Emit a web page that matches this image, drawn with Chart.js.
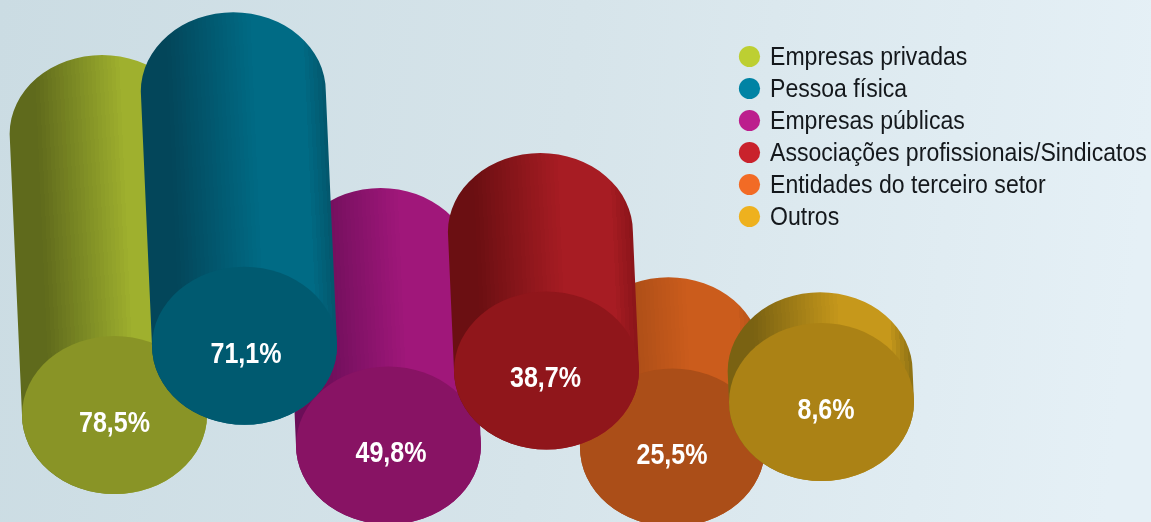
<!DOCTYPE html>
<html>
<head>
<meta charset="utf-8">
<style>html,body{margin:0;padding:0;background:#d5e3ea}#wrap{width:1151px;height:522px;position:relative}</style>
<script src="https://cdn.jsdelivr.net/npm/chart.js@4/dist/chart.umd.min.js"></script>
</head>
<body>
<div id="wrap"><canvas id="c"></canvas></div>
<script>
const categories = ['Empresas privadas','Pessoa física','Empresas públicas','Associações profissionais/Sindicatos','Entidades do terceiro setor','Outros'];
const values = [78.5, 71.1, 49.8, 38.7, 25.5, 8.6];
// staggered placement of each cylinder's front face, in axis units
const frontX = [114.5, 244.5, 388.5, 546.5, 672.5, 821.5];
const frontLift = [29.9, 49.2, 21.4, 42.3, 20.8, 33.5];
const labelNudge = [0, 1.5, 2.5, -1, -0.5, 4.5];
// colours
const legendColors = ['#bdcf32','#0083a4','#bc1e8d','#c9222c','#f26b25','#eeb11e'];
const faceColors = ['#899426','#005a70','#881364','#90161b','#ab4e18','#ab8215'];
const shadeColors = ['#5f6a1c','#03465a','#6b0e58','#6b0f12','#9c4715','#7a6212'];
const lightColors = ['#9fb02e','#006b85','#a0177a','#a71c23','#cb5c1c','#c6981b'];
const edgeColors = ['#8a9a26','#03566c','#85136a','#8a1419','#a94e18','#8c7014'];

const RY = 79, TILT = 0.044;
const LEGEND_SQUEEZE = 0.887, LABEL_SQUEEZE = 0.835;

function mix(a, b, t) {
  const p = s => [1, 3, 5].map(k => parseInt(s.substr(k, 2), 16));
  const A = p(a), B = p(b);
  return 'rgb(' + A.map((v, k) => Math.round(v + (B[k] - v) * t)).join(',') + ')';
}
function shadeAt(i, f) {
  if (f < 0.15) return shadeColors[i];
  if (f < 0.62) return mix(shadeColors[i], lightColors[i], (f - 0.15) / 0.47);
  if (f < 0.88) return lightColors[i];
  return mix(lightColors[i], edgeColors[i], (f - 0.88) / 0.12);
}

const cylinderPlugin = {
  id: 'cylinders',
  beforeDraw(chart) {
    const {ctx, width, height} = chart;
    const g = ctx.createLinearGradient(0, 0, width, height * 0.25);
    g.addColorStop(0, '#cbdce3');
    g.addColorStop(0.5, '#d6e4ea');
    g.addColorStop(1, '#e5f0f6');
    ctx.save();
    ctx.fillStyle = g;
    ctx.fillRect(0, 0, width, height);
    ctx.restore();
  },
  afterLayout(chart) {
    const legend = chart.legend;
    legend.left = 736;
    legend.top = 37.5;
    if (!legend._squeezed) {
      legend._squeezed = true;
      const drawLegend = legend.draw.bind(legend);
      legend.draw = function () {
        const ctx = chart.ctx;
        const fill = ctx.fillText;
        ctx.fillText = function (t, x, y) {
          fill.call(ctx, t, x, y + 1, ctx.measureText(t).width * LEGEND_SQUEEZE);
        };
        drawLegend();
        delete ctx.fillText;
      };
    }
  },
  beforeDatasetsDraw(chart) {
    const ctx = chart.ctx;
    const order = [0, 2, 4, 1, 3, 5];
    order.forEach(i => {
      const el = chart.getDatasetMeta(i).data[0];
      const rx = el.width / 2;
      const cx = el.x, cy = el.base;
      const h = el.base - el.y;
      const tx = cx - h * TILT, ty = el.y;
      ctx.save();
      const x0 = cx - rx, x1 = cx + rx;
      const grad = ctx.createLinearGradient(x0, cy, x1, cy - 2 * rx * TILT);
      const facets = 46;
      for (let k = 0; k < facets; k++) {
        const c = shadeAt(i, (k + 0.5) / facets);
        grad.addColorStop(k / facets, c);
        grad.addColorStop((k + 1) / facets, c);
      }
      ctx.fillStyle = grad;
      ctx.beginPath();
      ctx.ellipse(tx, ty, rx, RY, 0, Math.PI, 2 * Math.PI);
      ctx.ellipse(cx, cy, rx, RY, 0, 0, Math.PI);
      ctx.closePath();
      ctx.fill();
      ctx.fillStyle = faceColors[i];
      ctx.beginPath();
      ctx.ellipse(cx, cy, rx, RY, 0, 0, 2 * Math.PI);
      ctx.fill();
      ctx.fillStyle = '#ffffff';
      ctx.font = 'bold 30px "Liberation Sans"';
      ctx.textAlign = 'center';
      ctx.textBaseline = 'middle';
      const text = values[i].toFixed(1).replace('.', ',') + '%';
      ctx.fillText(text, cx + labelNudge[i], cy + 8.5, ctx.measureText(text).width * LABEL_SQUEEZE);
      ctx.restore();
    });
    return false;
  }
};

new Chart(document.getElementById('c'), {
  type: 'bar',
  data: {
    datasets: categories.map((label, i) => ({
      label,
      data: [{x: frontX[i], y: [frontLift[i], frontLift[i] + values[i]]}],
      backgroundColor: legendColors[i],
      borderColor: legendColors[i],
      barThickness: 185,
      grouped: false
    }))
  },
  plugins: [cylinderPlugin],
  options: {
    responsive: true,
    maintainAspectRatio: false,
    animation: false,
    layout: {padding: 0},
    scales: {
      x: {type: 'linear', display: false, min: 0, max: 1151, offset: false},
      y: {type: 'linear', display: false, min: 0, max: 145.8}
    },
    plugins: {
      tooltip: {enabled: false},
      legend: {
        position: 'chartArea',
        align: 'start',
        labels: {
          usePointStyle: true,
          boxHeight: 15,
          boxWidth: 15,
          padding: 6,
          color: '#14181c',
          font: {family: '"Liberation Sans"', size: 26}
        }
      }
    }
  }
});
</script>
</body>
</html>
